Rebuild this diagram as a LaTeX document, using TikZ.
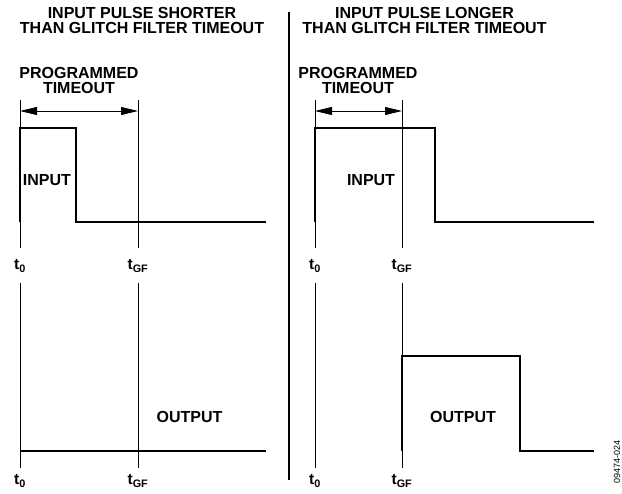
\documentclass[tikz,border=0pt]{standalone}
\usepackage{fontspec}
\setmainfont{Liberation Sans}
\usetikzlibrary{arrows.meta,positioning}

\tikzset{
    lbl/.style={font=\bfseries\fontsize{16}{15}\selectfont, align=center, inner sep=0pt},
    tlbl/.style={font=\bfseries\fontsize{15.5}{15}\selectfont, inner sep=0pt},
    sig/.style={line width=2.6pt, line join=miter},
    guide/.style={line width=0.8pt},
    span/.style={guide, {Triangle[length=17pt,width=8pt]}-{Triangle[length=17pt,width=8pt]}},
}

\begin{document}
\begin{tikzpicture}[x=1pt,y=-1pt]

    \useasboundingbox (0,0) rectangle (622,494);

    % Divider
    \draw[line width=1.6pt] (289,12) -- (289,480);

    % Left panel
    \node[lbl] (titleL) at (142,20.5) {INPUT PULSE SHORTER\\THAN GLITCH FILTER TIMEOUT};
    \node[lbl] (progL) at (79,80.5) {PROGRAMMED\\TIMEOUT};
    \coordinate (aL0) at (20,111);
    \coordinate (aL1) at (138,111);
    \draw[span] (aL0) -- (aL1);
    \draw[guide] (20,100) -- (20,248);
    \draw[guide] (138,100) -- (138,248);
    \draw[guide] (20,283) -- (20,468);
    \draw[guide] (138,283) -- (138,468);
    \draw[sig] (20,222) -- (20,128) -- (76,128) -- (76,222) -- (266,222);
    \draw[sig] (20,451) -- (266,451);
    \node[lbl] (inL) at (47,180) {INPUT};
    \node[lbl] (outL) at (189.5,417) {OUTPUT};
    \node[tlbl] (t0La) at (20,266) {t\textsubscript{0}};
    \node[tlbl] (tgfLa) at (138,266) {t\textsubscript{GF}};
    \node[tlbl] (t0Lb) at (20,481) {t\textsubscript{0}};
    \node[tlbl] (tgfLb) at (138,481) {t\textsubscript{GF}};

    % Right panel
    \node[lbl] (titleR) at (424.5,20.5) {INPUT PULSE LONGER\\THAN GLITCH FILTER TIMEOUT};
    \node[lbl] (progR) at (358,80.5) {PROGRAMMED\\TIMEOUT};
    \coordinate (aR0) at (315,111);
    \coordinate (aR1) at (402,111);
    \draw[span] (aR0) -- (aR1);
    \draw[guide] (315,100) -- (315,248);
    \draw[guide] (402,100) -- (402,248);
    \draw[guide] (315,283) -- (315,468);
    \draw[guide] (402,283) -- (402,468);
    \draw[sig] (315,222) -- (315,128) -- (435,128) -- (435,222) -- (594,222);
    \draw[sig] (402,451) -- (402,356) -- (520,356) -- (520,451) -- (594,451);
    \node[lbl] (inR) at (371,180) {INPUT};
    \node[lbl] (outR) at (463,417) {OUTPUT};
    \node[tlbl] (t0Ra) at (315,266) {t\textsubscript{0}};
    \node[tlbl] (tgfRa) at (402,266) {t\textsubscript{GF}};
    \node[tlbl] (t0Rb) at (315,481) {t\textsubscript{0}};
    \node[tlbl] (tgfRb) at (402,481) {t\textsubscript{GF}};

    \node[rotate=90, inner sep=0pt, font=\fontsize{9}{10}\selectfont] (fig) at (617,462) {09474-024};

\end{tikzpicture}
\end{document}
